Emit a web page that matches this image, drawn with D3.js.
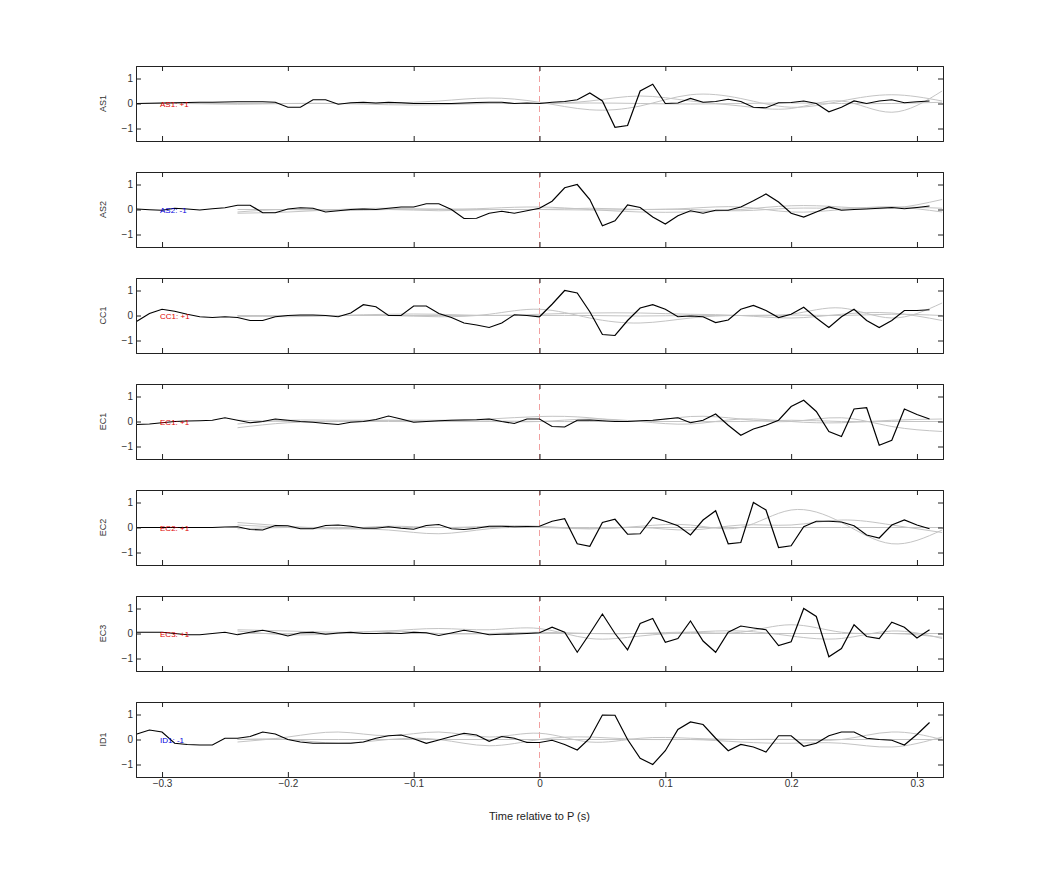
<!DOCTYPE html>
<html>
<head>
<meta charset="utf-8">
<script src="https://cdn.jsdelivr.net/npm/d3@7"></script>
<style>
  body { margin: 0; background: #fff; }
  text { font-family: "Liberation Sans", Arial, sans-serif; }
</style>
</head>
<body>
<div id="chart"></div>
<script>
var svgWidth = 1042, svgHeight = 875;
var margin = { left: 136, right: 99, top: 66 };
var panelH = 75, panelStep = 106;

// station names, polarity labels
var stations = ["AS1", "AS2", "CC1", "EC1", "EC2", "EC3", "ID1"];
var polarity = ["+1", "-1", "+1", "+1", "+1", "+1", "-1"];

// sample times for the black traces: -0.32 .. 0.31 step 0.01
var times = d3.range(64).map(i => +(-0.32 + i * 0.01).toFixed(2));
// knot times for the grey traces: -0.32 .. 0.32 step 0.04
var greyTimes = d3.range(17).map(i => +(-0.32 + i * 0.04).toFixed(2));

var traceAS1 = [0,0.01,0.02,0.03,0.04,0.05,0.05,0.06,0.07,0.07,
  0.07,0.05,-0.15,-0.15,0.15,0.15,-0.03,0.03,0.05,0.02,
  0.05,0.03,0.0,0.0,0.0,0.0,0.02,0.04,0.05,0.05,
  0.0,0.02,0.0,0.05,0.08,0.15,0.42,0.1,-0.95,-0.88,
  0.5,0.77,0.0,0.02,0.2,0.05,0.08,0.17,0.08,-0.15,
  -0.17,0.03,0.04,0.1,0.0,-0.33,-0.15,0.1,0.0,0.1,
  0.15,0.03,0.07,0.1];
var traceAS2 = [0.02,-0.01,-0.03,0.05,0.02,-0.02,0.03,0.07,0.17,0.17,
  -0.13,-0.13,0.02,0.07,0.05,-0.1,-0.05,0.0,0.02,0.0,
  0.05,0.1,0.1,0.23,0.23,0.0,-0.36,-0.35,-0.15,-0.07,
  -0.15,-0.05,0.05,0.33,0.87,1.0,0.4,-0.65,-0.45,0.18,
  0.08,-0.3,-0.58,-0.25,-0.05,-0.15,-0.03,-0.03,0.1,0.35,
  0.62,0.3,-0.15,-0.3,-0.1,0.1,-0.03,0.0,0.02,0.05,
  0.08,0.03,0.08,0.14];
var traceCC1 = [-0.23,0.08,0.25,0.17,0.05,-0.05,-0.08,-0.05,-0.08,-0.2,
  -0.2,-0.05,0.0,0.02,0.02,0.0,-0.05,0.1,0.43,0.35,
  0.0,0.0,0.38,0.38,0.08,-0.08,-0.3,-0.38,-0.48,-0.3,
  0.03,0.0,-0.05,0.45,1.0,0.9,0.15,-0.76,-0.8,-0.2,
  0.3,0.43,0.25,-0.05,-0.02,-0.05,-0.28,-0.18,0.25,0.4,
  0.2,-0.08,0.05,0.33,-0.1,-0.48,-0.05,0.25,-0.2,-0.48,
  -0.2,0.2,0.2,0.23];
var traceEC1 = [-0.12,-0.1,-0.05,0.0,0.02,0.03,0.05,0.15,0.05,-0.05,
  0.0,0.1,0.05,0.0,-0.03,-0.08,-0.12,-0.03,0.0,0.08,
  0.22,0.1,-0.03,0.0,0.03,0.05,0.06,0.07,0.1,0.0,
  -0.08,0.1,0.1,-0.2,-0.22,0.05,0.06,0.03,0.0,0.0,
  0.03,0.05,0.1,0.15,-0.05,0.05,0.3,-0.15,-0.55,-0.3,
  -0.15,0.05,0.6,0.85,0.4,-0.4,-0.6,0.5,0.55,-0.95,
  -0.75,0.5,0.28,0.1];
var traceEC2 = [0.0,0.0,0.0,0.0,0.0,0.0,0.0,0.02,0.03,-0.08,
  -0.1,0.08,0.07,-0.05,-0.05,0.08,0.1,0.05,-0.03,-0.03,
  0.03,-0.03,-0.07,0.08,0.12,-0.05,-0.08,-0.03,0.05,0.05,
  0.03,0.04,0.05,0.25,0.35,-0.65,-0.75,0.2,0.33,-0.27,
  -0.25,0.4,0.25,0.07,-0.3,0.3,0.67,-0.65,-0.6,1.0,
  0.7,-0.8,-0.73,0.03,0.25,0.25,0.22,0.07,-0.3,-0.42,
  0.1,0.3,0.1,-0.05];
var traceEC3 = [0.05,0.05,0.05,0.0,-0.05,-0.05,0.0,0.05,-0.05,0.05,
  0.13,0.03,-0.1,0.03,0.05,-0.03,0.02,0.05,0.0,0.0,
  0.02,0.0,0.05,0.03,-0.08,0.02,0.13,0.05,-0.05,-0.03,
  -0.02,0.0,0.03,0.25,0.05,-0.75,0.0,0.78,0.0,-0.65,
  0.4,0.6,-0.35,-0.2,0.5,-0.3,-0.75,0.05,0.3,0.22,
  0.15,-0.48,-0.33,1.0,0.68,-0.93,-0.6,0.35,-0.12,-0.2,
  0.45,0.25,-0.18,0.15];
var traceID1 = [0.22,0.38,0.3,-0.15,-0.2,-0.22,-0.22,0.05,0.05,0.12,
  0.3,0.22,0.0,-0.1,-0.15,-0.15,-0.15,-0.15,-0.1,0.05,
  0.15,0.18,0.03,-0.15,-0.02,0.12,0.25,0.18,-0.07,0.12,
  0.05,-0.12,-0.12,-0.03,-0.2,-0.42,0.05,0.98,0.97,0.0,
  -0.75,-1.0,-0.45,0.4,0.7,0.6,0.05,-0.45,-0.2,-0.3,
  -0.5,0.15,0.15,-0.27,-0.15,0.15,0.3,0.3,0.05,0.0,
  -0.03,-0.22,0.2,0.68];
var traces = [traceAS1, traceAS2, traceCC1, traceEC1, traceEC2, traceEC3, traceID1];

// grey traces (three per station), sampled at greyTimes
var greyAS1 = [
  [0,0,0,0,0,0.02,0.1,0.22,0.05,-0.25,-0.1,0.35,0.2,-0.15,0.1,0.35,0.1],
  [0,0,0,0,0,-0.05,-0.05,0,0,0.1,0.3,0.1,-0.1,-0.2,0.1,-0.35,0.5],
  [0,0,-0.03,0,0,0,0,0,0,0.02,0,-0.02,0,0.02,0,0,0.05]];
var greyAS2 = [
  [null,null,-0.15,-0.1,0,0.05,0,0.05,0.1,0,-0.1,-0.1,0,0.15,0.1,0.05,0.4],
  [null,null,-0.1,0,-0.05,0,-0.05,0,0,0.05,0,0.05,0.1,-0.1,0,0.1,-0.1],
  [null,null,0,0,0,0,0.02,0,0,-0.02,0,0,-0.05,0.05,0.05,0.1,0.05]];
var greyCC1 = [
  [null,null,0,0,0,0,-0.05,0.05,0.25,-0.1,-0.3,-0.1,0,0.05,0.3,-0.1,0.5],
  [null,null,0,-0.05,0,0.05,0.05,0,0.05,0.1,0.1,0.05,0,-0.1,0.05,0.1,-0.2],
  [null,null,-0.05,0,0,0,0,0,0,0,-0.02,0,0,0.02,0,0.05,0]];
var greyEC1 = [
  [null,null,-0.25,-0.05,0,0.05,0.05,0.1,0.2,0.15,0,0.2,0.1,0,0.15,-0.2,-0.4],
  [null,null,-0.1,0.05,0.05,0.05,0,0,0,0.1,0,-0.1,0.1,0,-0.05,0.05,0.1],
  [null,null,0.05,0,0,0,0,0.02,0,0,0,0,0,0.05,0,0,0]];
var greyEC2 = [
  [null,null,0.2,0.05,-0.05,-0.1,-0.25,-0.05,0,-0.05,0.05,0.1,0.0,0.7,0.2,-0.65,-0.1],
  [null,null,0.1,0,-0.05,0.05,0,0.05,0.05,-0.05,0,-0.1,0.1,0.1,0.3,0.1,-0.2],
  [null,null,-0.05,0,0,0,0,0,0,0,0,0,0,0,0,0,0]];
var greyEC3 = [
  [null,null,0.15,0.1,0.05,0.1,0.2,0.15,0.2,-0.2,-0.1,0.05,0.1,-0.1,-0.2,0.1,-0.2],
  [null,null,0.1,-0.05,0,0.1,0,0,0.05,0,0,0.05,0.05,0.35,0.05,0,-0.15],
  [null,null,0,0,0,0,0,0,0,0,0,0,0,0,0,0,0]];
var greyID1 = [
  [null,null,-0.1,0.1,0.3,0.15,0.3,0.1,0.25,-0.1,0.05,0.05,0,0,0,0.3,0.0],
  [null,null,0,0,-0.15,0,0,-0.25,0,0.1,0,0,-0.1,-0.15,-0.15,-0.3,0.1],
  [null,null,0,0,0,0,0,0,0,0,0,0,0,0,0,0,0]];
var greys = [greyAS1, greyAS2, greyCC1, greyEC1, greyEC2, greyEC3, greyID1];

var xTicks = [-0.3, -0.2, -0.1, 0, 0.1, 0.2, 0.3];
var yTicks = [-1, 0, 1];

var width = svgWidth - margin.left - margin.right;

var svg = d3.select("#chart").append("svg")
  .attr("width", svgWidth)
  .attr("height", svgHeight);

var xScale = d3.scaleLinear().domain([-0.3207, 0.3207]).range([0, width]);
var yScale = d3.scaleLinear().domain([-1.5, 1.5]).range([panelH, 0]);

stations.forEach((name, p) => {
  var g = svg.append("g")
    .attr("transform", `translate(${margin.left}, ${margin.top + p * panelStep})`);

  var clipId = "clip" + p;
  g.append("clipPath").attr("id", clipId)
    .append("rect").attr("width", width).attr("height", panelH);

  var plot = g.append("g").attr("clip-path", `url(#${clipId})`);

  // dashed P arrival line
  plot.append("line")
    .attr("x1", xScale(0)).attr("x2", xScale(0))
    .attr("y1", 0).attr("y2", panelH)
    .attr("stroke", "#e88").attr("stroke-width", 0.8)
    .attr("stroke-dasharray", "6,4");

  var greyLine = d3.line()
    .defined(d => d[1] !== null)
    .x(d => xScale(d[0]))
    .y(d => yScale(d[1]))
    .curve(d3.curveNatural);

  greys[p].forEach(vals => {
    plot.append("path")
      .datum(greyTimes.map((t, i) => [t, vals[i]]))
      .attr("fill", "none")
      .attr("stroke", "#c4c4c4")
      .attr("stroke-width", 1)
      .attr("d", greyLine);
  });

  var blackLine = d3.line()
    .x((d, i) => xScale(times[i]))
    .y(d => yScale(d));

  plot.append("path")
    .datum(traces[p])
    .attr("fill", "none")
    .attr("stroke", "#000")
    .attr("stroke-width", 1.2)
    .attr("d", blackLine);

  // polarity label
  g.append("text")
    .attr("x", xScale(-0.3) - 2)
    .attr("y", yScale(0) + 3)
    .attr("font-size", "8px")
    .attr("fill", polarity[p] === "+1" ? "#e00000" : "#0000dd")
    .text(`${name}: ${polarity[p]}`);

  // axes: inward ticks on all sides
  var bottom = d3.axisBottom(xScale).tickValues(xTicks).tickSize(-5)
    .tickFormat(p === stations.length - 1 ? d3.format("") : "");
  var top = d3.axisTop(xScale).tickValues(xTicks).tickSize(-5).tickFormat("");
  var left = d3.axisLeft(yScale).tickValues(yTicks).tickSize(-5).tickFormat(d3.format(""));
  var right = d3.axisRight(yScale).tickValues(yTicks).tickSize(-5).tickFormat("");

  [[bottom, `translate(0,${panelH})`], [top, "translate(0,0)"],
   [left, "translate(0,0)"], [right, `translate(${width},0)`]].forEach(a => {
    var ax = g.append("g").attr("transform", a[1]).call(a[0]);
    ax.select(".domain").attr("stroke", "#222").attr("stroke-width", 1);
    ax.selectAll(".tick line").attr("stroke", "#222");
    ax.selectAll(".tick text").attr("font-size", "10px").attr("fill", "#333");
  });
  g.selectAll(".tick text").filter(function() { return this.parentNode.parentNode; });

  // station label
  g.append("text")
    .attr("transform", `translate(${-30},${panelH / 2})rotate(-90)`)
    .attr("text-anchor", "middle")
    .attr("font-size", "9px")
    .attr("fill", "#333")
    .text(name);
});

svg.append("text")
  .attr("x", margin.left + xScale(0))
  .attr("y", 820)
  .attr("text-anchor", "middle")
  .attr("font-size", "11px")
  .attr("fill", "#222")
  .text("Time relative to P (s)");
</script>
</body>
</html>
